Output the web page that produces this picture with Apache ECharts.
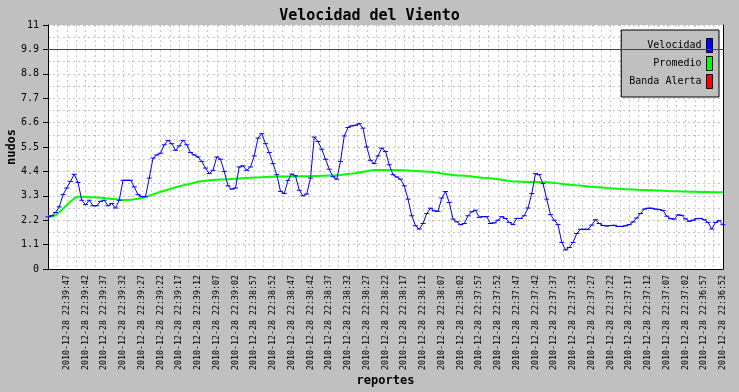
<!DOCTYPE html>
<html>
<head>
<meta charset="utf-8">
<script src="https://cdn.jsdelivr.net/npm/echarts@6/dist/echarts.min.js"></script>
<style>
  html, body { margin: 0; padding: 0; background: #c0c0c0; }
  #chart { width: 739px; height: 392px; }
</style>
</head>
<body>
<div id="chart"></div>
<script>
// etiquetas del eje x (una cada 5 reportes)
const tickLabels = [
  '2010-12-28 22:39:47', '2010-12-28 22:39:42', '2010-12-28 22:39:37', '2010-12-28 22:39:32',
  '2010-12-28 22:39:27', '2010-12-28 22:39:22', '2010-12-28 22:39:17', '2010-12-28 22:39:12',
  '2010-12-28 22:39:07', '2010-12-28 22:39:02', '2010-12-28 22:38:57', '2010-12-28 22:38:52',
  '2010-12-28 22:38:47', '2010-12-28 22:38:42', '2010-12-28 22:38:37', '2010-12-28 22:38:32',
  '2010-12-28 22:38:27', '2010-12-28 22:38:22', '2010-12-28 22:38:17', '2010-12-28 22:38:12',
  '2010-12-28 22:38:07', '2010-12-28 22:38:02', '2010-12-28 22:37:57', '2010-12-28 22:37:52',
  '2010-12-28 22:37:47', '2010-12-28 22:37:42', '2010-12-28 22:37:37', '2010-12-28 22:37:32',
  '2010-12-28 22:37:27', '2010-12-28 22:37:22', '2010-12-28 22:37:17', '2010-12-28 22:37:12',
  '2010-12-28 22:37:07', '2010-12-28 22:37:02', '2010-12-28 22:36:57', '2010-12-28 22:36:52'
];

// velocidad (nudos), un reporte por segundo
const velocidad = [
  2.35, 2.4, 2.55, 2.8, 3.35, 3.65, 3.95, 4.27, 3.9, 3.1,
  2.9, 3.1, 2.85, 2.85, 3.05, 3.1, 2.85, 2.95, 2.75, 3.1,
  4.0, 4.0, 4.0, 3.7, 3.35, 3.26, 3.26, 4.1, 5.0, 5.14,
  5.22, 5.6, 5.8, 5.65, 5.35, 5.55, 5.8, 5.6, 5.25, 5.14,
  5.05, 4.85, 4.55, 4.3, 4.45, 5.05, 4.95, 4.4, 3.75, 3.6,
  3.65, 4.6, 4.65, 4.45, 4.6, 5.1, 5.9, 6.1, 5.65, 5.25,
  4.75, 4.25, 3.5, 3.4, 4.0, 4.28, 4.2, 3.55, 3.3, 3.38,
  4.1, 5.95, 5.75, 5.4, 4.95, 4.5, 4.16, 4.05, 4.85, 6.0,
  6.38, 6.45, 6.48, 6.55, 6.35, 5.5, 4.9, 4.75, 5.1, 5.45,
  5.3, 4.7, 4.25, 4.15, 4.05, 3.75, 3.15, 2.4, 1.95, 1.8,
  2.05, 2.5, 2.74, 2.62, 2.6, 3.2, 3.49, 3.0, 2.25, 2.13,
  2.0, 2.05, 2.4, 2.58, 2.65, 2.33, 2.36, 2.36, 2.05, 2.08,
  2.2, 2.36, 2.28, 2.1, 2.0, 2.28, 2.28, 2.4, 2.75, 3.4,
  4.3, 4.25, 3.85, 3.15, 2.45, 2.2, 2.0, 1.2, 0.86, 0.97,
  1.2, 1.6, 1.79, 1.79, 1.79, 1.98, 2.22, 2.05, 1.96, 1.94,
  1.96, 1.97, 1.92, 1.92, 1.95, 2.0, 2.12, 2.3, 2.5, 2.7,
  2.74, 2.74, 2.7, 2.68, 2.64, 2.38, 2.27, 2.25, 2.44, 2.42,
  2.26, 2.15, 2.2, 2.27, 2.28, 2.22, 2.1, 1.8, 2.1, 2.18, 2.0
];

// promedio movil
const promedio = [
  2.37, 2.37, 2.42, 2.56, 2.72, 2.88, 3.04, 3.18, 3.26, 3.26,
  3.25, 3.24, 3.23, 3.22, 3.21, 3.2, 3.18, 3.16, 3.14, 3.12,
  3.11, 3.11, 3.12, 3.14, 3.17, 3.2, 3.24, 3.3, 3.36, 3.42,
  3.48, 3.53, 3.58, 3.63, 3.68, 3.73, 3.77, 3.81, 3.85, 3.89,
  3.93, 3.96, 3.98, 4.0, 4.01, 4.02, 4.03, 4.04, 4.05, 4.06,
  4.07, 4.08, 4.09, 4.1, 4.11, 4.12, 4.13, 4.14, 4.15, 4.16,
  4.16, 4.16, 4.17, 4.17, 4.17, 4.17, 4.17, 4.18, 4.18, 4.18,
  4.18, 4.19, 4.19, 4.2, 4.2, 4.21, 4.22, 4.23, 4.24, 4.26,
  4.28, 4.3, 4.32, 4.35, 4.38, 4.41, 4.44, 4.46, 4.46, 4.46,
  4.46, 4.46, 4.46, 4.46, 4.45, 4.45, 4.44, 4.43, 4.42, 4.41,
  4.4, 4.39, 4.38, 4.36, 4.34, 4.31, 4.28, 4.26, 4.24, 4.22,
  4.21, 4.2, 4.19, 4.17, 4.15, 4.13, 4.11, 4.1, 4.09, 4.07,
  4.05, 4.02, 4.0, 3.97, 3.95, 3.94, 3.93, 3.93, 3.92, 3.92,
  3.92, 3.91, 3.91, 3.91, 3.9, 3.88, 3.86, 3.84, 3.82, 3.8,
  3.79, 3.77, 3.76, 3.74, 3.72, 3.71, 3.69, 3.68, 3.67, 3.65,
  3.64, 3.63, 3.62, 3.61, 3.6, 3.59, 3.58, 3.57, 3.56, 3.56,
  3.55, 3.55, 3.54, 3.54, 3.53, 3.52, 3.51, 3.5, 3.5, 3.49,
  3.49, 3.48, 3.48, 3.48, 3.47, 3.47, 3.47, 3.46, 3.46, 3.46, 3.46
];

const bandaAlerta = 9.9;

const FONT = '"DejaVu Sans Mono", monospace';
const gridDots = { color: '#c4c4c4', width: 1, type: [2, 3] };

const chart = echarts.init(document.getElementById('chart'));

chart.setOption({
  backgroundColor: '#c0c0c0',
  animation: false,
  title: {
    text: 'Velocidad del Viento',
    left: 'center',
    top: 4,
    textStyle: { fontFamily: FONT, fontSize: 15, fontWeight: 'bold', color: '#000' }
  },
  legend: {
    orient: 'vertical',
    right: 20,
    top: 30,
    align: 'right',
    icon: 'rect',
    itemWidth: 6,
    itemHeight: 14,
    itemGap: 3,
    padding: [8, 6, 8, 8],
    backgroundColor: '#c0c0c0',
    borderColor: '#000',
    borderWidth: 1,
    itemStyle: { borderColor: '#000', borderWidth: 1 },
    textStyle: { fontFamily: FONT, fontSize: 10, color: '#000' },
    data: ['Velocidad', 'Promedio', 'Banda Alerta']
  },
  grid: {
    left: 48, right: 16, top: 25, bottom: 123,
    containLabel: false,
    outerBoundsMode: 'none',
    show: true, backgroundColor: '#fff', borderWidth: 0
  },
  xAxis: {
    type: 'value',
    min: 0,
    max: 180,
    interval: 5,
    name: 'reportes',
    nameLocation: 'middle',
    nameGap: 106,
    nameMoveOverlap: false,
    nameTextStyle: { fontFamily: FONT, fontSize: 12, fontWeight: 'bold', color: '#000' },
    axisLine: { lineStyle: { color: '#000', width: 1 } },
    axisTick: { show: false },
    minorTick: { show: false, splitNumber: 2 },
    splitLine: { show: true, lineStyle: gridDots },
    minorSplitLine: { show: true, lineStyle: gridDots },
    axisLabel: {
      rotate: 90,
      margin: 6,
      showMinLabel: true,
      showMaxLabel: true,
      fontFamily: FONT,
      fontSize: 8.3,
      color: '#000',
      formatter: (v) => (v > 0 ? tickLabels[Math.round(v / 5) - 1] : '')
    }
  },
  yAxis: [
    {
      type: 'value',
      min: 0,
      max: 11,
      interval: 1.1,
      name: 'nudos',
      nameLocation: 'middle',
      nameRotate: 90,
      nameGap: 30,
      nameMoveOverlap: false,
      nameTextStyle: { fontFamily: FONT, fontSize: 12, fontWeight: 'bold', color: '#000' },
      axisLine: { show: true, lineStyle: { color: '#000', width: 1 } },
      axisTick: { show: true, length: 5, lineStyle: { color: '#000' } },
      minorTick: { show: false, splitNumber: 2 },
      splitLine: { show: true, lineStyle: gridDots },
      minorSplitLine: { show: true, lineStyle: gridDots },
      axisLabel: {
        margin: 9,
        fontFamily: FONT,
        fontSize: 10,
        color: '#000',
        formatter: (v) => String(Math.round(v * 10) / 10)
      }
    },
    {
      type: 'value',
      position: 'right',
      min: 0,
      max: 11,
      axisLine: { show: true, lineStyle: { color: '#000', width: 1 } },
      axisTick: { show: false },
      axisLabel: { show: false },
      splitLine: { show: false }
    }
  ],
  series: [
    {
      name: 'Velocidad',
      type: 'line',
      data: velocidad.map((v, i) => [i, v]),
      color: '#0000ff',
      lineStyle: { color: '#0000ff', width: 1 },
      symbol: 'rect',
      symbolSize: [5, 1],
      showAllSymbol: true,
      itemStyle: { color: '#0000ff' },
      z: 3
    },
    {
      name: 'Promedio',
      type: 'line',
      data: promedio.map((v, i) => [i, v]),
      color: '#00ff00',
      lineStyle: { color: '#00ff00', width: 2 },
      symbol: 'none',
      itemStyle: { color: '#00ff00' },
      z: 2
    },
    {
      name: 'Banda Alerta',
      type: 'line',
      data: [],
      color: '#ff0000',
      itemStyle: { color: '#ff0000' },
      symbol: 'none',
      markLine: {
        silent: true,
        symbol: 'none',
        label: { show: false },
        lineStyle: { color: '#e00000', width: 1, type: 'solid' },
        data: [{ yAxis: bandaAlerta }]
      }
    }
  ]
});
</script>
</body>
</html>
